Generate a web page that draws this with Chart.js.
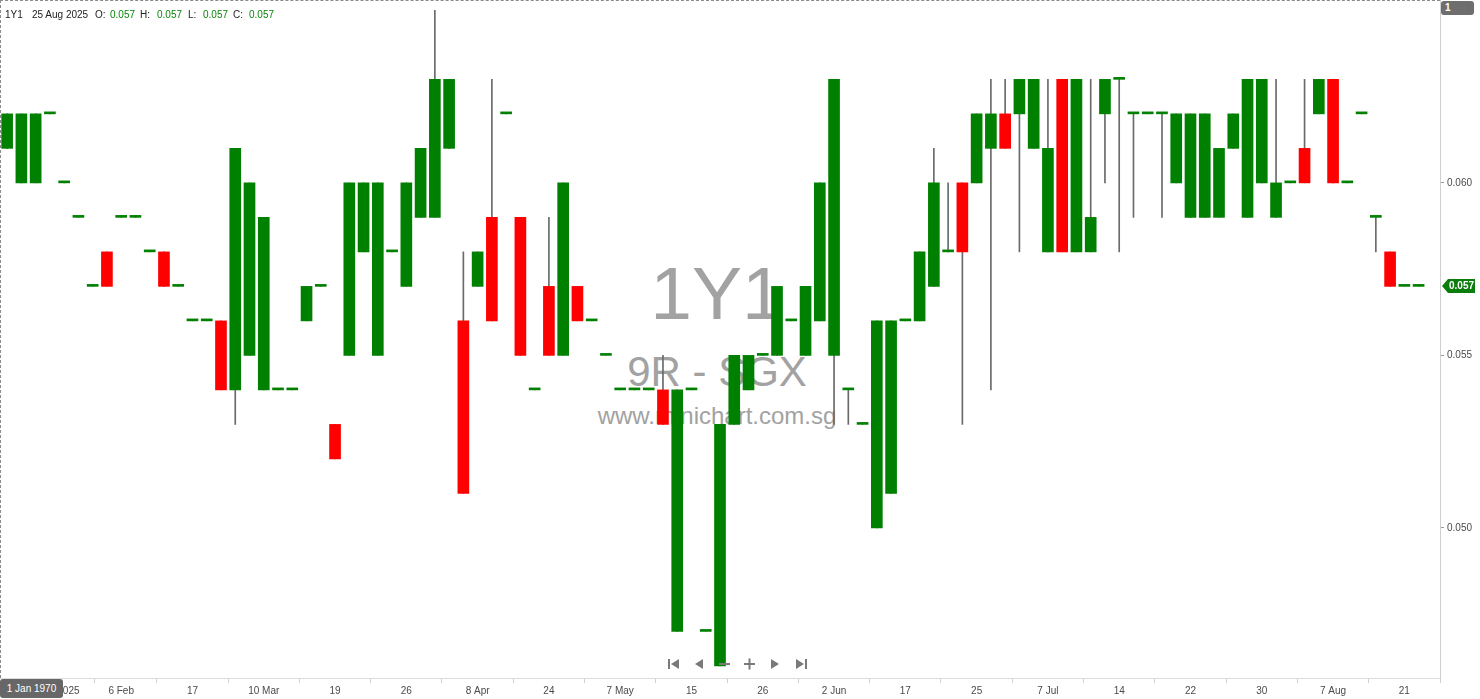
<!DOCTYPE html>
<html><head><meta charset="utf-8">
<script src="https://cdn.jsdelivr.net/npm/chart.js@4.4.1/dist/chart.umd.min.js"></script>
<style>
html,body{margin:0;padding:0;background:#fff;overflow:hidden;}
#wrap{position:relative;width:1480px;height:699px;font-family:'Liberation Sans',Arial,sans-serif;}
#wm{position:absolute;left:0;top:0;width:1440px;height:678px;z-index:0;color:#a2a2a2;}
#wm div{position:absolute;left:417px;width:600px;text-align:center;white-space:nowrap;}
#c{position:absolute;left:0;top:0;z-index:1;}
.ov{position:absolute;z-index:2;white-space:nowrap;font-size:10px;line-height:12px;}
.g{color:#0a860a;}
.k{color:#222;}
#topline{position:absolute;left:0;top:0;width:1440px;height:0;border-top:1px dashed #8a8a8a;z-index:3;}
#leftline{position:absolute;left:0;top:0;width:0;height:678px;border-left:1px dashed #8a8a8a;z-index:3;}
#onebox{position:absolute;left:1441px;top:1px;width:33px;height:14px;background:#6e6e6e;border-radius:3px;color:#fff;font-weight:bold;font-size:10px;line-height:14px;z-index:3;}
#datebox{position:absolute;left:0;top:679px;width:63px;height:19px;background:#676767;border-radius:3px;color:#fff;font-size:10px;line-height:19px;text-align:center;z-index:3;}
#nav{position:absolute;left:0;top:0;z-index:3;}
</style></head><body>
<div id="wrap">
  <div id="wm">
    <div style="top:256px;font-size:75px;line-height:75px;">1Y1</div>
    <div style="top:351px;font-size:42px;line-height:42px;">9R - SGX</div>
    <div style="top:404px;font-size:24px;line-height:24px;">www.minichart.com.sg</div>
  </div>
  <canvas id="c" width="1480" height="699"></canvas>
  <div id="topline"></div><div id="leftline"></div>
  <span class="ov k" style="left:5px;top:9px;">1Y1</span>
  <span class="ov k" style="left:32px;top:9px;">25 Aug 2025</span>
  <span class="ov k" style="left:95px;top:9px;">O:</span>
  <span class="ov g" style="left:110px;top:9px;">0.057</span>
  <span class="ov k" style="left:140px;top:9px;">H:</span>
  <span class="ov g" style="left:157px;top:9px;">0.057</span>
  <span class="ov k" style="left:188px;top:9px;">L:</span>
  <span class="ov g" style="left:203px;top:9px;">0.057</span>
  <span class="ov k" style="left:233px;top:9px;">C:</span>
  <span class="ov g" style="left:249px;top:9px;">0.057</span>
  <div id="onebox"><span style="margin-left:4px;">1</span></div>
  <div id="datebox">1 Jan 1970</div>
  <svg id="nav" width="1480" height="699">
    <g fill="#7a7a7a">
      <rect x="668" y="659" width="2" height="10"/><polygon points="679,659 679,669 671,664"/>
      <polygon points="703,659 703,669 695,664"/>
      <rect x="719" y="663" width="11" height="2"/>
      <rect x="744" y="663" width="11" height="2"/><rect x="748.5" y="658.5" width="2" height="11"/>
      <polygon points="771,659 771,669 779,664"/>
      <polygon points="796,659 796,669 804,664"/><rect x="805" y="659" width="2" height="10"/>
    </g>
  </svg>
</div>
<script>
// ---- data (prices in SGD) ----
const openP  = [0.061,0.060,0.060,0.062,0.060,0.059,0.057,0.058,0.059,0.059,0.058,0.058,0.057,0.056,0.056,0.056,0.054,0.055,0.054,0.054,
                0.054,0.056,0.057,0.053,0.055,0.058,0.055,0.058,0.057,0.059,0.059,0.061,0.056,0.057,0.059,0.062,0.059,0.054,0.057,0.055,
                0.057,0.056,0.055,0.054,0.054,0.054,0.054,0.047,0.054,0.047,0.046,0.053,0.054,0.055,0.055,0.056,0.055,0.056,0.055,0.054,
                0.053,0.050,0.051,0.056,0.056,0.057,0.058,0.060,0.060,0.061,0.062,0.062,0.061,0.058,0.063,0.058,0.058,0.062,0.063,0.062,
                0.062,0.062,0.060,0.059,0.059,0.059,0.061,0.059,0.060,0.059,0.060,0.061,0.062,0.063,0.060,0.062,0.059,0.058,0.057,0.057];
const highP  = [0.062,0.062,0.062,0.062,0.060,0.059,0.057,0.058,0.059,0.059,0.058,0.058,0.057,0.056,0.056,0.056,0.061,0.060,0.059,0.054,
                0.054,0.057,0.057,0.053,0.060,0.060,0.060,0.058,0.060,0.061,0.065,0.063,0.058,0.058,0.063,0.062,0.059,0.054,0.059,0.060,
                0.057,0.056,0.055,0.054,0.054,0.054,0.055,0.054,0.054,0.047,0.053,0.055,0.055,0.055,0.057,0.056,0.057,0.060,0.063,0.054,
                0.053,0.056,0.056,0.056,0.058,0.061,0.060,0.060,0.062,0.063,0.063,0.063,0.063,0.063,0.063,0.063,0.063,0.063,0.063,0.062,
                0.062,0.062,0.062,0.062,0.062,0.061,0.062,0.063,0.063,0.063,0.060,0.063,0.063,0.063,0.060,0.062,0.059,0.058,0.057,0.057];
const lowP   = [0.061,0.060,0.060,0.062,0.060,0.059,0.057,0.057,0.059,0.059,0.058,0.057,0.057,0.056,0.056,0.054,0.053,0.055,0.054,0.054,
                0.054,0.056,0.057,0.052,0.055,0.058,0.055,0.058,0.057,0.059,0.059,0.061,0.051,0.057,0.056,0.062,0.055,0.054,0.055,0.055,
                0.056,0.056,0.055,0.054,0.054,0.054,0.053,0.047,0.054,0.047,0.046,0.053,0.054,0.055,0.055,0.056,0.055,0.056,0.053,0.053,
                0.053,0.050,0.051,0.056,0.056,0.057,0.058,0.053,0.060,0.054,0.061,0.058,0.061,0.058,0.058,0.058,0.058,0.060,0.058,0.059,
                0.062,0.059,0.060,0.059,0.059,0.059,0.061,0.059,0.060,0.059,0.060,0.060,0.062,0.060,0.060,0.062,0.058,0.057,0.057,0.057];
const closeP = [0.062,0.062,0.062,0.062,0.060,0.059,0.057,0.057,0.059,0.059,0.058,0.057,0.057,0.056,0.056,0.054,0.061,0.060,0.059,0.054,
                0.054,0.057,0.057,0.052,0.060,0.060,0.060,0.058,0.060,0.061,0.063,0.063,0.051,0.058,0.056,0.062,0.055,0.054,0.055,0.060,
                0.056,0.056,0.055,0.054,0.054,0.054,0.053,0.054,0.054,0.047,0.053,0.055,0.055,0.055,0.057,0.056,0.057,0.060,0.063,0.054,
                0.053,0.056,0.056,0.056,0.058,0.060,0.058,0.058,0.062,0.062,0.061,0.063,0.063,0.061,0.058,0.063,0.059,0.063,0.063,0.062,
                0.062,0.062,0.062,0.062,0.062,0.061,0.062,0.063,0.063,0.060,0.060,0.060,0.063,0.060,0.060,0.062,0.059,0.057,0.057,0.057];
// x-axis tick labels and the candle position they sit under
const tickLabels = ["2025","6 Feb","17","10 Mar","19","26","8 Apr","24","7 May","15","26","2 Jun","17","25","7 Jul","14","22","30","7 Aug","21"];
const tickIndex  = [4.3,8,13,18,23,28,33,38,43,48,53,58,63,68,73,78,83,88,93,98];
// y-axis tick values and range
const yTicks = [0.050,0.055,0.060];
const yMin = 0.04565, yMax = 0.0653;

const UP = '#008000', DOWN = '#ff0000', WICK = '#6a6a6a';
const FONT = "'Liberation Sans', Arial, sans-serif";

const bodies = openP.map((o,i)=>({x:i, y:[Math.min(o,closeP[i]), Math.max(o,closeP[i])]}));
const wicks  = openP.map((o,i)=>({x:i, y:[lowP[i], highP[i]]}));
const bodyColors = openP.map((o,i)=> closeP[i] >= o ? UP : DOWN);

const priceTag = {
  id:'priceTag',
  afterDraw(chart){
    const ctx = chart.ctx, ys = chart.scales.y;
    const last = closeP[closeP.length-1];
    const y = Math.round(ys.getPixelForValue(last));
    const x0 = 1442, x1 = 1448, x2 = 1475, h = 7;
    ctx.save();
    ctx.fillStyle = '#0b7d0b';
    ctx.beginPath();
    ctx.moveTo(x0, y); ctx.lineTo(x1, y-h); ctx.lineTo(x2, y-h); ctx.lineTo(x2, y+h); ctx.lineTo(x1, y+h); ctx.closePath();
    ctx.fill();
    ctx.fillStyle = '#fff';
    ctx.font = 'bold 10px ' + FONT;
    ctx.textBaseline = 'middle';
    ctx.fillText(last.toFixed(3), 1449, y+0.5);
    ctx.restore();
  }
};

new Chart(document.getElementById('c'), {
  type:'bar',
  data:{
    datasets:[
      {data:bodies, backgroundColor:bodyColors, barThickness:11, minBarLength:2, borderWidth:0, order:1},
      {data:wicks, backgroundColor:WICK, barThickness:1, minBarLength:0, borderWidth:0, order:2}
    ]
  },
  options:{
    responsive:false, animation:false, events:[],
    layout:{padding:0},
    datasets:{bar:{grouped:false}},
    plugins:{legend:{display:false}, tooltip:{enabled:false}},
    scales:{
      x:{
        type:'linear', min:-0.5, max:100.5, offset:false,
        grid:{drawOnChartArea:false, drawTicks:true, tickLength:5, color:'#cfcfcf'},
        border:{display:true, color:'#dcdcdc'},
        ticks:{autoSkip:false, maxRotation:0, minRotation:0, padding:2, color:'#4a4a4a',
               font:{family:FONT, size:10},
               callback:(v)=>{const k = tickIndex.indexOf(v); return k>=0 ? tickLabels[k] : '';}},
        afterBuildTicks:(s)=>{ s.ticks = tickIndex.map(v=>({value:v})); },
        afterFit:(s)=>{ s.height = 21; s.paddingLeft = 0; s.paddingRight = 0; }
      },
      y:{
        position:'right', min:yMin, max:yMax,
        grid:{drawOnChartArea:false, drawTicks:true, tickLength:4, color:'#9a9a9a'},
        border:{display:true, color:'#cfcfcf'},
        ticks:{padding:3, color:'#4a4a4a', font:{family:FONT, size:10},
               callback:(v)=>Number(v).toFixed(3)},
        afterBuildTicks:(s)=>{ s.ticks = yTicks.map(v=>({value:v})); },
        afterFit:(s)=>{ s.width = 40; s.paddingTop = 0; s.paddingBottom = 0; }
      }
    }
  },
  plugins:[priceTag]
});
</script>
</body></html>
